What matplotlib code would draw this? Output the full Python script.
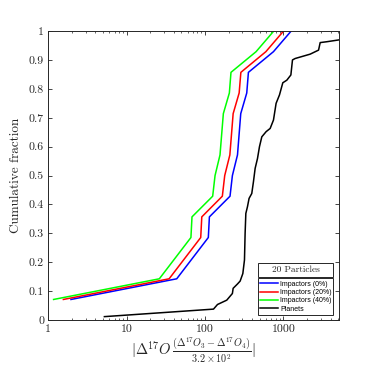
import numpy as np
import matplotlib
matplotlib.use('Agg')
import matplotlib.pyplot as plt
from matplotlib.patches import Rectangle

plt.rcParams['mathtext.fontset'] = 'cm'
plt.rcParams['font.family'] = ['cmr10', 'DejaVu Serif']
plt.rcParams['axes.formatter.use_mathtext'] = True

# cumulative fraction steps (14 impactor samples)
frac_imp = [0.0714, 0.1429, 0.2857, 0.3571, 0.4286, 0.5, 0.5714, 0.7143, 0.7857, 0.8571, 0.9286, 1.0]

imp_0 = [1.95, 43.5, 110, 113.5, 208, 223, 259, 285, 340, 357, 745, 1253]
imp_20 = [1.56, 34.8, 88, 90.8, 166, 178, 207, 228, 272, 286, 596, 1002]
imp_40 = [1.17, 26.1, 66, 68.1, 125, 134, 155, 171, 204, 214, 447, 752]

planets_x = [5.2, 128, 144, 189, 223, 228, 259, 280, 303, 318, 324, 331, 347, 364, 394, 414,
             435, 466, 494, 529, 601, 676, 745, 805, 889, 980, 1103, 1242, 1302, 1410, 2188,
             2800, 2937, 3573, 5300]
planets_y = [0.012, 0.038, 0.054, 0.069, 0.092, 0.11, 0.125, 0.135, 0.161, 0.208, 0.3, 0.369,
             0.392, 0.421, 0.438, 0.479, 0.525, 0.559, 0.6, 0.634, 0.652, 0.663, 0.692, 0.75,
             0.779, 0.821, 0.83, 0.848, 0.9, 0.905, 0.92, 0.934, 0.96, 0.963, 0.97]

xticks = [1, 10, 100, 1000]
xticklabels = ['1', '10', '100', '1000']
yticks = [0, 0.1, 0.2, 0.3, 0.4, 0.5, 0.6, 0.7, 0.8, 0.9, 1.0]
yticklabels = ['0', '0.1', '0.2', '0.3', '0.4', '0.5', '0.6', '0.7', '0.8', '0.9', '1']

fig = plt.figure(figsize=(3.74, 3.65), dpi=100)
ax = fig.add_axes([0.129, 0.123, 0.777, 0.792])

lw = 1.1
ax.plot(imp_0, frac_imp, color=(0, 0, 1), lw=lw, label='Impactors (0%)')
ax.plot(imp_20, frac_imp, color=(1, 0, 0), lw=lw, label='Impactors (20%)')
ax.plot(imp_40, frac_imp, color=(0, 1, 0), lw=lw, label='Impactors (40%)')
ax.plot(planets_x, planets_y, color='black', lw=lw, label='Planets')

ax.set_xscale('log')
ax.set_xlim(1, 5080)
ax.set_ylim(0, 1)
ax.set_xticks(xticks)
ax.set_xticklabels(xticklabels)
ax.set_yticks(yticks)
ax.set_yticklabels(yticklabels)
ax.tick_params(which='both', direction='in', top=True, right=True,
               labelsize=8.5, colors='#262626', pad=3)
ax.tick_params(which='major', length=3, width=0.6)
ax.tick_params(which='minor', length=1.6, width=0.5)
for s in ax.spines.values():
    s.set_color('#262626')
    s.set_linewidth(0.7)

ax.set_ylabel('Cumulative fraction', fontsize=9.5, color='#262626', labelpad=5)
ax.set_xlabel(r'$|\Delta^{17}O\,\frac{(\Delta^{17}O_3-\Delta^{17}O_4)}{3.2\times10^{2}}|$',
              fontsize=10.5, color='#262626', labelpad=1)

leg = ax.legend(loc='lower left', bbox_to_anchor=(0.722, 0.017, 0.258, 0.111), mode='expand',
                borderaxespad=0, fancybox=False, edgecolor='#262626', framealpha=1,
                prop={'family': 'Liberation Sans', 'size': 5.0}, handlelength=2.5,
                handletextpad=0.35, labelspacing=0.2, borderpad=0.35)
leg.get_frame().set_linewidth(0.7)

ax.add_patch(Rectangle((0.722, 0.149), 0.258, 0.048, transform=ax.transAxes,
                       fill=True, facecolor='white', edgecolor='#262626', lw=0.7, zorder=5))
ax.text(0.851, 0.173, '20 Particles', transform=ax.transAxes, ha='center', va='center',
        fontsize=6.8, color='#262626', zorder=6)

fig.savefig('out.png', dpi=100)
